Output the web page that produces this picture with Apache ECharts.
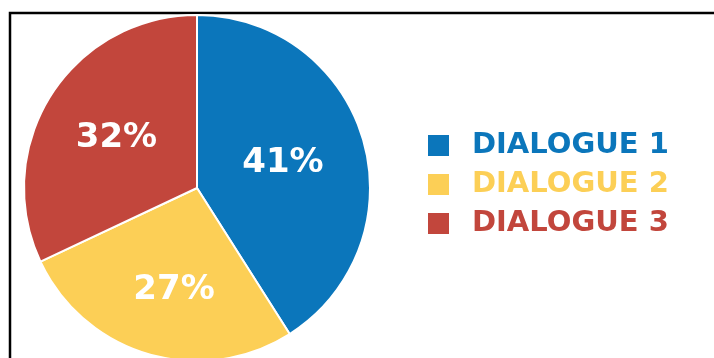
<!DOCTYPE html>
<html>
<head>
<meta charset="utf-8">
<script src="https://cdn.jsdelivr.net/npm/echarts@6/dist/echarts.min.js"></script>
<style>
  html, body { margin: 0; padding: 0; background: #ffffff; }
  #chart { width: 714px; height: 358px; }
</style>
</head>
<body>
<div id="chart"></div>
<script>
// Share of each dialogue (percent)
const categories = ['DIALOGUE 1', 'DIALOGUE 2', 'DIALOGUE 3'];
const shares = [41, 27, 32];
const colors = ['#0b76bb', '#fccf56', '#c2463c'];

const chart = echarts.init(document.getElementById('chart'));

chart.setOption({
  animation: false,
  graphic: [{
    type: 'rect',
    shape: { x: 10, y: 13, width: 900, height: 600 },
    style: { fill: 'none', stroke: '#000', lineWidth: 2.5 },
    silent: true
  }],
  legend: {
    orient: 'vertical',
    left: 421,
    top: 126,
    icon: 'rect',
    itemWidth: 23,
    itemHeight: 23,
    itemGap: 10,
    textStyle: {
      fontFamily: 'DejaVu Sans',
      fontWeight: 'bold',
      fontSize: 29,
      padding: [0, 0, 0, 17]
    },
    data: categories.map((name, i) => ({ name, textStyle: { color: colors[i] } }))
  },
  series: [{
    type: 'pie',
    center: [197, 188],
    radius: 173,
    startAngle: 90,
    clockwise: true,
    silent: true,
    label: {
      position: 'inside',
      formatter: '{c}%',
      color: '#ffffff',
      fontFamily: 'DejaVu Sans',
      fontWeight: 'bold',
      fontSize: 34
    },
    labelLine: { show: false },
    itemStyle: { borderColor: '#ffffff', borderWidth: 2 },
    data: categories.map((name, i) => ({
      name,
      value: shares[i],
      itemStyle: { color: colors[i] },
      label: { offset: [[0, 0], [2, 16], [-5, -2]][i] }
    }))
  }]
});
</script>
</body>
</html>
